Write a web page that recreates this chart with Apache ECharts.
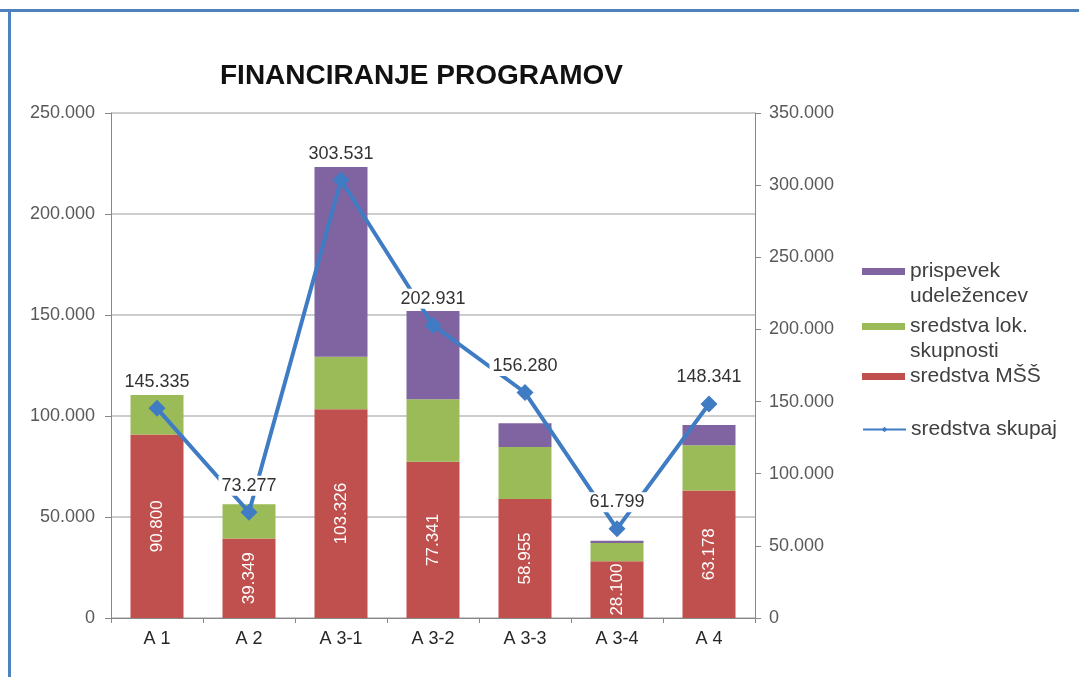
<!DOCTYPE html>
<html>
<head>
<meta charset="utf-8">
<script src="https://cdn.jsdelivr.net/npm/echarts@6/dist/echarts.min.js"></script>
<style>
  html, body { margin: 0; padding: 0; background: #fff; }
  #chart { width: 1079px; height: 677px; }
</style>
</head>
<body>
<div id="chart"></div>
<script>
var categories = ['A 1', 'A 2', 'A 3-1', 'A 3-2', 'A 3-3', 'A 3-4', 'A 4'];
var sredstvaMSS = [90800, 39349, 103326, 77341, 58955, 28100, 63178];
var sredstvaLok = [19600, 17000, 26000, 31000, 25700, 9000, 22400];
var prispevek = [0, 0, 94000, 43600, 11800, 1200, 10000];
var sredstvaSkupaj = [145335, 73277, 303531, 202931, 156280, 61799, 148341];

function fmt(v) {
    return String(Math.round(v)).replace(/\B(?=(\d{3})+(?!\d))/g, '.');
}

var chart = echarts.init(document.getElementById('chart'));
var font = 'Arial, "Liberation Sans", sans-serif';

// one legend per item so the icon sits on the first text line
function legendItem(name, label, top, icon) {
    return {
        orient: 'vertical',
        left: 862,
        top: top,
        padding: 0,
        itemWidth: 43,
        itemHeight: 7,
        icon: icon,
        data: [name],
        formatter: function () { return label; },
        textStyle: { fontSize: 21, color: '#404040', lineHeight: 25, fontFamily: font }
    };
}

var option = {
    animation: false,
    textStyle: { fontFamily: font },
    title: {
        text: 'FINANCIRANJE PROGRAMOV',
        left: 215,
        top: 57,
        textStyle: { fontSize: 28, fontWeight: 'bold', color: '#111', fontFamily: font }
    },
    graphic: [
        { type: 'rect', shape: { x: 0, y: 9, width: 1079, height: 3 }, style: { fill: '#4f81bd' } },
        { type: 'rect', shape: { x: 8, y: 9, width: 3, height: 668 }, style: { fill: '#4f81bd' } }
    ],
    legend: [
        legendItem('prispevek udeležencev', '\nprispevek\nudeležencev', 234, 'rect'),
        legendItem('sredstva lok. skupnosti', '\nsredstva lok.\nskupnosti', 289, 'rect'),
        legendItem('sredstva MŠŠ', 'sredstva MŠŠ', 364, 'rect'),
        legendItem('sredstva skupaj', 'sredstva skupaj', 417)
    ],
    grid: { left: 111, right: 324, top: 113, bottom: 59 },
    xAxis: {
        type: 'category',
        data: categories,
        axisLine: { lineStyle: { color: '#888' } },
        axisTick: { show: true, lineStyle: { color: '#888' } },
        axisLabel: { fontSize: 18, color: '#262626', margin: 12 }
    },
    yAxis: [{
        type: 'value',
        min: 0,
        max: 250000,
        interval: 50000,
        axisLine: { show: true, lineStyle: { color: '#888' } },
        axisTick: { show: true, length: 6, lineStyle: { color: '#888' } },
        axisLabel: { fontSize: 18, color: '#595959', margin: 16, formatter: fmt },
        splitLine: { lineStyle: { color: '#bdbdbd', width: 1.5 } }
    }, {
        type: 'value',
        min: 0,
        max: 350000,
        interval: 50000,
        position: 'right',
        axisLine: { show: true, lineStyle: { color: '#888' } },
        axisTick: { show: true, length: 6, lineStyle: { color: '#888' } },
        axisLabel: { fontSize: 18, color: '#595959', margin: 14, formatter: fmt },
        splitLine: { show: false }
    }],
    series: [{
        name: 'sredstva MŠŠ',
        type: 'bar',
        stack: 'total',
        barWidth: 53,
        itemStyle: { color: '#c0504d' },
        label: {
            show: true,
            position: 'inside',
            rotate: 90,
            color: '#fff',
            fontSize: 17,
            formatter: function (p) { return fmt(p.value); }
        },
        data: sredstvaMSS
    }, {
        name: 'sredstva lok. skupnosti',
        type: 'bar',
        stack: 'total',
        barWidth: 53,
        itemStyle: { color: '#9bbb59' },
        data: sredstvaLok
    }, {
        name: 'prispevek udeležencev',
        type: 'bar',
        stack: 'total',
        barWidth: 53,
        itemStyle: { color: '#8064a2' },
        data: prispevek
    }, {
        name: 'sredstva skupaj',
        type: 'line',
        yAxisIndex: 1,
        symbol: 'diamond',
        symbolSize: 17,
        z: 5,
        lineStyle: { color: '#3f7cc4', width: 4 },
        itemStyle: { color: '#3f7cc4' },
        label: {
            show: true,
            position: 'top',
            distance: 8,
            fontSize: 18,
            color: '#333',
            backgroundColor: '#fff',
            padding: [1, 3],
            formatter: function (p) { return fmt(p.value); }
        },
        data: sredstvaSkupaj
    }]
};

chart.setOption(option);
</script>
</body>
</html>
